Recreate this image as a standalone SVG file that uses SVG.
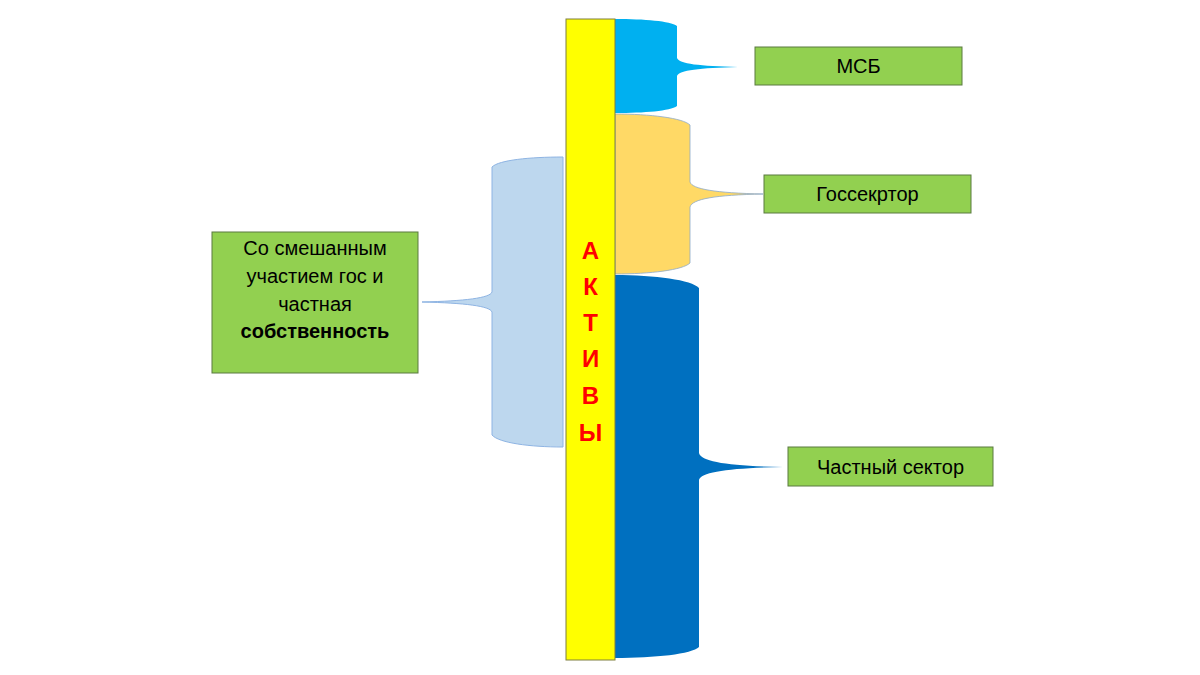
<svg xmlns="http://www.w3.org/2000/svg" width="1200" height="675" viewBox="0 0 1200 675">
<style>
.box{fill:#92D050;stroke:#5A7A40;stroke-width:1}
.lbl{font-family:"Liberation Sans",Arial,sans-serif;font-size:20px;fill:#000;text-anchor:middle}
.ak{font-family:"Liberation Sans",Arial,sans-serif;font-size:24px;font-weight:bold;fill:#FF0000;text-anchor:middle}
</style>
<rect width="1200" height="675" fill="#fff"/>
<g id="connectors">
<path id="brace-msb" d="M615,19 C645,19 670,21 677,26 L677,58 C679,64 700,66 738,67 C700,68 679,70 677,76 L677,106 C670,111 645,113 615,113 Z" fill="#00B0F0"/>
<path id="brace-gos" d="M615,114 C650,114 683,118 690,125 L690,182 C692,189 715,193 763,194 C715,195 692,199 690,207 L690,263 C683,270 650,274 615,274 Z" fill="#FFD966" stroke="#8EA9C8" stroke-width="0.8"/>
<path id="brace-priv" d="M615,275 C655,275 692,280 699,288 L699,453 C701,462 730,466 783,467 C730,468 701,472 699,480 L699,647 C692,654 655,658 615,658 Z" fill="#0070C0"/>
<path id="brace-mixed" d="M563,157 C530,157 499,160 492,167 L492,292 C490,298 465,301 422,302 C465,303 490,306 492,312 L492,435 C499,443 530,447 563,447 Z" fill="#BDD7EE" stroke="#8EB4E3" stroke-width="1"/>
</g>
<g id="aktivy">
<rect x="566" y="19" width="49" height="641" fill="#FFFF00" stroke="#7F7F3F" stroke-width="1"/>
<text class="ak" x="590.5" y="259">А</text>
<text class="ak" x="590.5" y="295">К</text>
<text class="ak" x="590.5" y="331">Т</text>
<text class="ak" x="590.5" y="367">И</text>
<text class="ak" x="590.5" y="404">В</text>
<text class="ak" x="590.5" y="441">Ы</text>
</g>
<g id="msb">
<rect class="box" x="755" y="47" width="207" height="38"/>
<text class="lbl" x="858.5" y="73">МСБ</text>
</g>
<g id="gossektor">
<rect class="box" x="764" y="175" width="207" height="38"/>
<text class="lbl" x="867.5" y="201">Госсекртор</text>
</g>
<g id="chastny">
<rect class="box" x="788" y="447" width="205" height="39"/>
<text class="lbl" x="890.5" y="474">Частный сектор</text>
</g>
<g id="mixed">
<rect class="box" x="212" y="232" width="206" height="141"/>
<text class="lbl" x="315" y="255">Со смешанным</text>
<text class="lbl" x="315" y="283">участием гос и</text>
<text class="lbl" x="315" y="311">частная</text>
<text class="lbl" x="315" y="338" font-weight="bold">собственность</text>
</g>
</svg>
